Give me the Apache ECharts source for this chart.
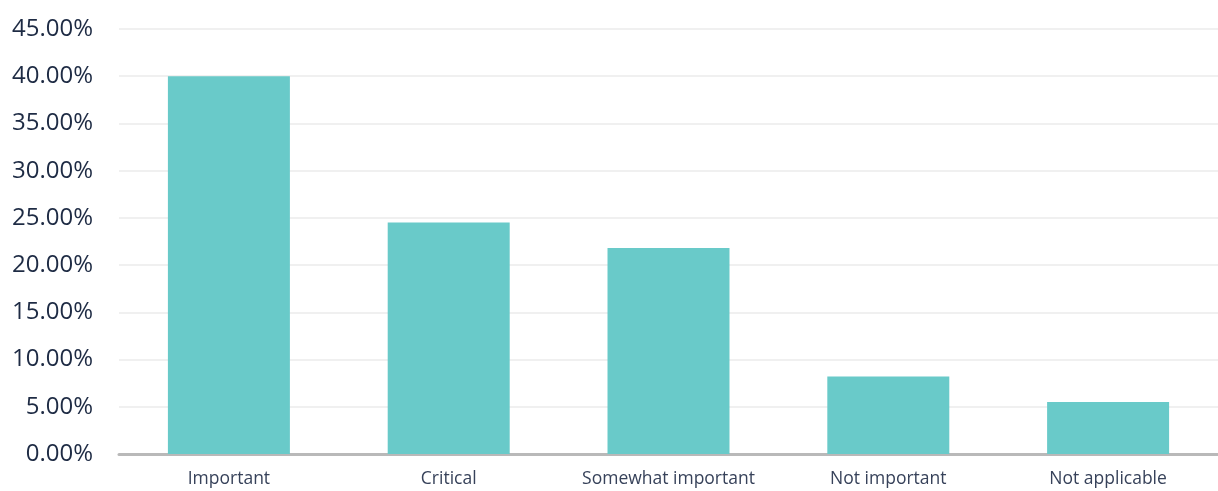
<!DOCTYPE html>
<html>
<head>
<meta charset="utf-8">
<script src="https://cdn.jsdelivr.net/npm/echarts@6/dist/echarts.min.js"></script>
<style>
  html, body { margin: 0; padding: 0; background: #ffffff; }
  #chart { width: 1218px; height: 491px; }
</style>
</head>
<body>
<div id="chart"></div>
<script>
// Survey responses: share of respondents per importance rating (%)
const categories = ['Important', 'Critical', 'Somewhat important', 'Not important', 'Not applicable'];
const shares = [40.0, 24.5, 21.8, 8.2, 5.5];

const chart = echarts.init(document.getElementById('chart'), null, { renderer: 'canvas' });

chart.setOption({
  animation: false,
  backgroundColor: '#ffffff',
  grid: { left: 119, right: -2, top: 29, bottom: 37, containLabel: false },
  xAxis: {
    type: 'category',
    data: categories,
    axisLine: { lineStyle: { color: '#b9b9b9', width: 3 } },
    axisTick: { show: false },
    axisLabel: {
      interval: 0,
      hideOverlap: false,
      color: '#37425a',
      fontFamily: 'Open Sans',
      fontSize: 17.5,
      margin: 16
    }
  },
  yAxis: {
    type: 'value',
    min: 0,
    max: 45,
    interval: 5,
    axisLine: { show: false },
    axisTick: { show: false },
    splitLine: { lineStyle: { color: '#f0f0f0', width: 2 } },
    axisLabel: {
      color: '#1e2b44',
      fontFamily: 'Open Sans',
      fontSize: 24,
      margin: 26,
      formatter: v => v.toFixed(2) + '%'
    }
  },
  series: [{
    type: 'bar',
    data: shares,
    barWidth: '55.5%',
    itemStyle: { color: '#69cac9' }
  }]
});
</script>
</body>
</html>
